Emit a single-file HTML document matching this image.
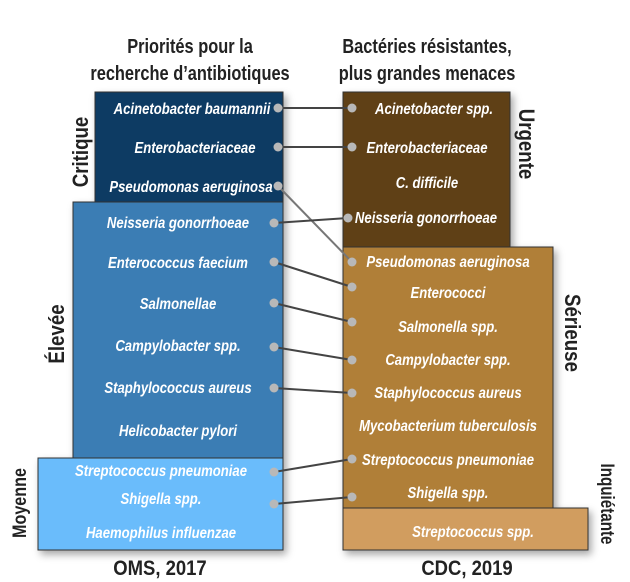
<!DOCTYPE html>
<html><head><meta charset="utf-8"><style>
html,body{margin:0;padding:0;background:#fff;width:630px;height:582px;overflow:hidden}
svg{display:block}
.t{font-family:"Liberation Sans",sans-serif;font-weight:bold;font-style:italic;font-size:16px;fill:#fff}
.h{font-family:"Liberation Sans",sans-serif;font-weight:bold;font-size:20px;fill:#222}
.s{font-family:"Liberation Sans",sans-serif;font-weight:bold;font-size:22px;fill:#222}
.s2{font-family:"Liberation Sans",sans-serif;font-weight:bold;font-size:19px;fill:#222}
</style></head><body>
<svg width="630" height="582" viewBox="0 0 630 582" xmlns="http://www.w3.org/2000/svg">
<defs>
<filter id="sh" x="-20%" y="-20%" width="140%" height="140%"><feDropShadow dx="3" dy="4" stdDeviation="4" flood-color="#000" flood-opacity="0.35"/></filter>
</defs>
<g transform="translate(190,53) scale(0.82,1)"><text class="h" text-anchor="middle">Priorités pour la</text></g>
<g transform="translate(190,80) scale(0.82,1)"><text class="h" text-anchor="middle">recherche d’antibiotiques</text></g>
<g transform="translate(427,53) scale(0.82,1)"><text class="h" text-anchor="middle">Bactéries résistantes,</text></g>
<g transform="translate(427,80) scale(0.82,1)"><text class="h" text-anchor="middle">plus grandes menaces</text></g>
<g transform="translate(160,575) scale(0.88,1)"><text class="h" text-anchor="middle" style="font-size:21px">OMS, 2017</text></g>
<g transform="translate(467,575) scale(0.88,1)"><text class="h" text-anchor="middle" style="font-size:21px">CDC, 2019</text></g>

<g filter="url(#sh)" stroke="#333" stroke-width="1">
<rect x="38" y="458" width="245" height="92" fill="#6abcfb"/>
<rect x="73" y="202" width="210" height="256" fill="#3a7db4"/>
<rect x="95" y="92" width="188" height="110" fill="#0e3a63"/>
<rect x="343" y="508" width="245" height="42" fill="#d19d5e"/>
<rect x="343" y="247" width="210" height="261" fill="#b07f38"/>
<rect x="343" y="92" width="167" height="155" fill="#5e4118"/>
</g>

<g transform="translate(88,152) rotate(-90) scale(0.85,1)"><text class="s" text-anchor="middle">Critique</text></g>
<g transform="translate(64,334) rotate(-90) scale(0.85,1)"><text class="s" text-anchor="middle">Élevée</text></g>
<g transform="translate(26,503) rotate(-90) scale(0.85,1)"><text class="s2" text-anchor="middle">Moyenne</text></g>
<g transform="translate(519,144) rotate(90) scale(0.85,1)"><text class="s" text-anchor="middle">Urgente</text></g>
<g transform="translate(565,333) rotate(90) scale(0.85,1)"><text class="s" text-anchor="middle">Sérieuse</text></g>
<g transform="translate(601,504) rotate(90) scale(0.8,1)"><text class="s2" text-anchor="middle">Inquiétante</text></g>

<g transform="translate(192,114) scale(0.82,1)"><text class="t" text-anchor="middle">Acinetobacter baumannii</text></g>
<g transform="translate(195,153) scale(0.82,1)"><text class="t" text-anchor="middle">Enterobacteriaceae</text></g>
<g transform="translate(191,192) scale(0.82,1)"><text class="t" text-anchor="middle">Pseudomonas aeruginosa</text></g>
<g transform="translate(178,228) scale(0.82,1)"><text class="t" text-anchor="middle">Neisseria gonorrhoeae</text></g>
<g transform="translate(178,268) scale(0.82,1)"><text class="t" text-anchor="middle">Enterococcus faecium</text></g>
<g transform="translate(178,309) scale(0.82,1)"><text class="t" text-anchor="middle">Salmonellae</text></g>
<g transform="translate(178,351) scale(0.82,1)"><text class="t" text-anchor="middle">Campylobacter spp.</text></g>
<g transform="translate(178,393) scale(0.82,1)"><text class="t" text-anchor="middle">Staphylococcus aureus</text></g>
<g transform="translate(178,436) scale(0.82,1)"><text class="t" text-anchor="middle">Helicobacter pylori</text></g>
<g transform="translate(161,476) scale(0.82,1)"><text class="t" text-anchor="middle">Streptococcus pneumoniae</text></g>
<g transform="translate(161,504) scale(0.82,1)"><text class="t" text-anchor="middle">Shigella spp.</text></g>
<g transform="translate(161,538) scale(0.82,1)"><text class="t" text-anchor="middle">Haemophilus influenzae</text></g>

<g transform="translate(434,114) scale(0.82,1)"><text class="t" text-anchor="middle">Acinetobacter spp.</text></g>
<g transform="translate(427,153) scale(0.82,1)"><text class="t" text-anchor="middle">Enterobacteriaceae</text></g>
<g transform="translate(427,188) scale(0.82,1)"><text class="t" text-anchor="middle">C. difficile</text></g>
<g transform="translate(426,223) scale(0.82,1)"><text class="t" text-anchor="middle">Neisseria gonorrhoeae</text></g>
<g transform="translate(448,267) scale(0.82,1)"><text class="t" text-anchor="middle">Pseudomonas aeruginosa</text></g>
<g transform="translate(448,298) scale(0.82,1)"><text class="t" text-anchor="middle">Enterococci</text></g>
<g transform="translate(448,332) scale(0.82,1)"><text class="t" text-anchor="middle">Salmonella spp.</text></g>
<g transform="translate(448,365) scale(0.82,1)"><text class="t" text-anchor="middle">Campylobacter spp.</text></g>
<g transform="translate(448,398) scale(0.82,1)"><text class="t" text-anchor="middle">Staphylococcus aureus</text></g>
<g transform="translate(448,431) scale(0.82,1)"><text class="t" text-anchor="middle">Mycobacterium tuberculosis</text></g>
<g transform="translate(448,465) scale(0.82,1)"><text class="t" text-anchor="middle">Streptococcus pneumoniae</text></g>
<g transform="translate(448,498) scale(0.82,1)"><text class="t" text-anchor="middle">Shigella spp.</text></g>
<g transform="translate(473,537) scale(0.82,1)"><text class="t" text-anchor="middle">Streptococcus spp.</text></g>

<g stroke="#444" stroke-width="2" fill="none">
<line x1="278" y1="108" x2="351" y2="108"/>
<line x1="278" y1="147" x2="351" y2="147"/>
<line x1="278" y1="186" x2="352" y2="262" stroke="#777"/>
<line x1="274" y1="223" x2="348" y2="218"/>
<line x1="274" y1="262" x2="352" y2="287"/>
<line x1="274" y1="303" x2="352" y2="322"/>
<line x1="274" y1="347" x2="352" y2="360"/>
<line x1="274" y1="388" x2="352" y2="393"/>
<line x1="274" y1="472" x2="352" y2="459"/>
<line x1="274" y1="504" x2="352" y2="497"/>
</g>
<g fill="#b8b8b8">
<circle cx="278" cy="108" r="4.5"/><circle cx="278" cy="147" r="4.5"/><circle cx="278" cy="186" r="4.5"/>
<circle cx="274" cy="223" r="4.5"/><circle cx="274" cy="262" r="4.5"/><circle cx="274" cy="303" r="4.5"/>
<circle cx="274" cy="347" r="4.5"/><circle cx="274" cy="388" r="4.5"/><circle cx="274" cy="472" r="4.5"/><circle cx="274" cy="504" r="4.5"/>
<circle cx="352" cy="108" r="4.5"/><circle cx="352" cy="147" r="4.5"/><circle cx="348" cy="218" r="4.5"/>
<circle cx="352" cy="262" r="4.5"/><circle cx="352" cy="287" r="4.5"/><circle cx="352" cy="322" r="4.5"/>
<circle cx="352" cy="360" r="4.5"/><circle cx="352" cy="393" r="4.5"/><circle cx="352" cy="459" r="4.5"/><circle cx="352" cy="497" r="4.5"/>
</g>
</svg>
</body></html>
